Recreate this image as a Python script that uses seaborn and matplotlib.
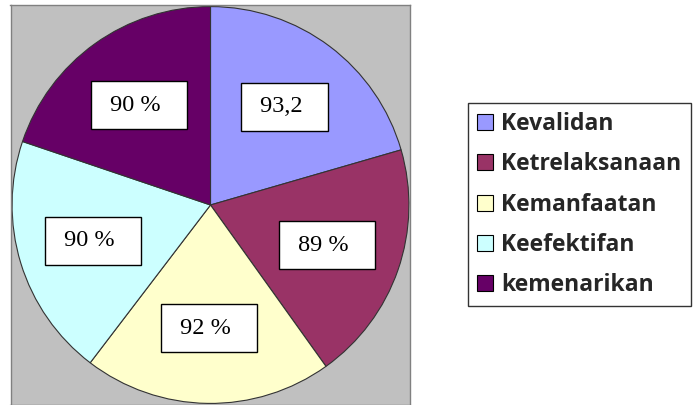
import matplotlib
matplotlib.use("Agg")
import matplotlib.pyplot as plt
import seaborn as sns

sns.set_theme(style="white")

# data
categories = ["Kevalidan", "Ketrelaksanaan", "Kemanfaatan", "Keefektifan", "kemenarikan"]
values = [93.2, 89, 92, 90, 90]
value_labels = ["93,2", "89 %", "92 %", "90 %", "90 %"]
colors = ["#9999FF", "#993366", "#FFFFCC", "#CCFFFF", "#660066"]

fig = plt.figure(figsize=(7, 4.05), dpi=100)
ax = fig.add_axes([10 / 700, 0, 401 / 700, 400 / 405])

wedges, _, autotexts = ax.pie(
    values, colors=colors, startangle=90, counterclock=False,
    autopct="", pctdistance=0.62, frame=True,
    wedgeprops=dict(edgecolor="#333333", linewidth=0.8),
)
for t, s in zip(autotexts, value_labels):
    # the boxes in the original are wider than the numbers
    t.set_text(" " + s.ljust(5) + " ")
    t.set_fontfamily("Liberation Serif")
    t.set_fontsize(17.5)
    t.set_color("black")
    t.set_bbox(dict(boxstyle="square,pad=0.55", fc="white", ec="black", lw=1))

ax.set_facecolor("#C0C0C0")
ax.set_xlim(-1.008, 1.008)
ax.set_ylim(-1.008, 1.008)
ax.set_aspect("equal")
ax.set_xticks([])
ax.set_yticks([])
for sp in ax.spines.values():
    sp.set_visible(True)
    sp.set_color("#808080")
    sp.set_linewidth(1)

leg = fig.legend(
    wedges, categories, loc="upper left", bbox_to_anchor=(468 / 700, 1 - 103 / 405),
    borderaxespad=0, frameon=True, fancybox=False, edgecolor="black",
    prop=dict(family="Open Sans", weight="bold", size=16.5),
    handlelength=0.7, handleheight=0.7, handletextpad=0.35,
    labelspacing=0.71, borderpad=0.4,
)
leg.get_frame().set_linewidth(1)
for h in leg.legend_handles:
    h.set_edgecolor("black")
    h.set_linewidth(0.8)

fig.savefig("out.png", dpi=100)
